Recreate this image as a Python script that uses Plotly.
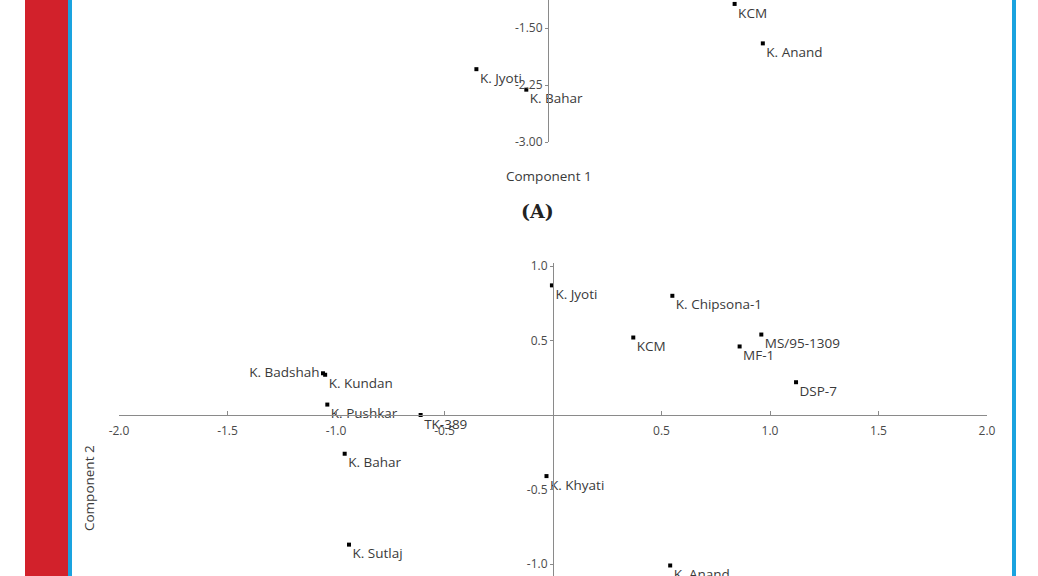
import plotly.graph_objects as go

W, H = 1038, 576

# ---- data (panel B: PCA component scores) ----
b_names = ["K. Jyoti", "K. Chipsona-1", "KCM", "MS/95-1309", "MF-1", "DSP-7",
           "K. Badshah", "K. Kundan", "K. Pushkar", "TK-389", "K. Bahar",
           "K. Khyati", "K. Sutlaj", "K. Anand"]
b_x = [-0.005, 0.55, 0.37, 0.96, 0.86, 1.12, -1.06, -1.05, -1.04, -0.61, -0.96, -0.03, -0.94, 0.54]
b_y = [0.87, 0.80, 0.52, 0.54, 0.46, 0.22, 0.28, 0.27, 0.07, 0.0, -0.26, -0.41, -0.87, -1.01]
b_textpos = ["bottom right", "bottom right", "bottom right", "bottom right", "bottom right",
             "bottom right", "middle left", "bottom right", "bottom right", "bottom right",
             "bottom right", "bottom right", "bottom right", "bottom right"]

# ---- data (panel A, partially visible) ----
a_names = ["KCM", "K. Anand", "K. Jyoti", "K. Bahar"]
a_x = [0.86, 0.99, -0.33, -0.10]
a_y = [-1.18, -1.70, -2.04, -2.31]

b_xticks = [-2.0, -1.5, -1.0, -0.5, 0.5, 1.0, 1.5, 2.0]
b_yticks = [1.0, 0.5, -0.5, -1.0]
a_yticks = [-1.50, -2.25, -3.00]


def px(x):
    return x / W


def py(y):
    return 1 - y / H


label_font = dict(family="Open Sans, sans-serif", size=13.5, color="#3a3a3a")
tick_font = dict(family="Open Sans, sans-serif", size=12, color="#4a4a4a")
axis_col = "#8a8a8a"

fig = go.Figure()

fig.add_trace(go.Scatter(
    x=b_x, y=b_y, mode="markers+text", text=b_names, textposition=b_textpos,
    marker=dict(color="black", size=4, symbol="square"),
    textfont=label_font, cliponaxis=False, xaxis="x", yaxis="y", showlegend=False,
    hoverinfo="skip"))

fig.add_trace(go.Scatter(
    x=a_x, y=a_y, mode="markers+text", text=a_names, textposition="bottom right",
    marker=dict(color="black", size=4, symbol="square"),
    textfont=label_font, cliponaxis=False, xaxis="x2", yaxis="y2", showlegend=False,
    hoverinfo="skip"))

xdom = [px(119), px(987)]

fig.update_layout(
    width=W, height=H, margin=dict(l=0, r=0, t=0, b=0, autoexpand=False),
    paper_bgcolor="white", plot_bgcolor="rgba(0,0,0,0)",
    xaxis=dict(domain=xdom, range=[-2, 2], anchor="free", position=py(415),
               tickvals=b_xticks, ticktext=[f"{v:.1f}" for v in b_xticks],
               ticks="inside", ticklen=4, tickcolor=axis_col, showline=True,
               linecolor=axis_col, linewidth=1, showgrid=False, zeroline=False,
               tickfont=tick_font, ticklabelstandoff=5, automargin=False),
    yaxis=dict(domain=[0, py(263)], range=[(415 - 576) / 149, (415 - 263) / 149],
               anchor="free", position=px(553),
               tickvals=b_yticks, ticktext=[f"{v:.1f}" for v in b_yticks],
               ticks="outside", ticklen=3, tickcolor=axis_col, showline=True,
               linecolor=axis_col, linewidth=1, showgrid=False, zeroline=False,
               tickfont=tick_font, automargin=False),
    xaxis2=dict(domain=xdom, range=[(119 - 548) / 217, (987 - 548) / 217],
                anchor="y2", visible=False, automargin=False),
    yaxis2=dict(domain=[py(142), 1], range=[-3.0, -1.5 + 28 / 75.3],
                anchor="free", position=px(548),
                tickvals=a_yticks, ticktext=[f"{v:.2f}" for v in a_yticks],
                ticks="outside", ticklen=3, tickcolor=axis_col, showline=True,
                linecolor=axis_col, linewidth=1, showgrid=False, zeroline=False,
                tickfont=tick_font, automargin=False),
    shapes=[
        dict(type="rect", xref="paper", yref="paper", x0=px(25), x1=px(68), y0=0, y1=1,
             fillcolor="#d2212b", line=dict(width=0), layer="below"),
        dict(type="rect", xref="paper", yref="paper", x0=px(68), x1=px(72), y0=0, y1=1,
             fillcolor="#1aa3df", line=dict(width=0), layer="below"),
        dict(type="rect", xref="paper", yref="paper", x0=px(1012), x1=px(1016), y0=0, y1=1,
             fillcolor="#1aa3df", line=dict(width=0), layer="below"),
    ],
    annotations=[
        dict(text="Component 1", x=px(549), y=py(176), xref="paper", yref="paper",
             showarrow=False, font=label_font, xanchor="center", yanchor="middle"),
        dict(text="<b>(A)</b>", x=px(538), y=py(211), xref="paper", yref="paper",
             showarrow=False, font=dict(family="DejaVu Serif, serif", size=19, color="#222"),
             xanchor="center", yanchor="middle"),
        dict(text="Component 2", x=px(89), y=py(488), xref="paper", yref="paper",
             showarrow=False, font=label_font, textangle=-90,
             xanchor="center", yanchor="middle"),
    ],
)

fig.write_html("out.html", config={"displayModeBar": False},
               post_script="document.body.style.margin='0';document.body.style.overflow='hidden';")
